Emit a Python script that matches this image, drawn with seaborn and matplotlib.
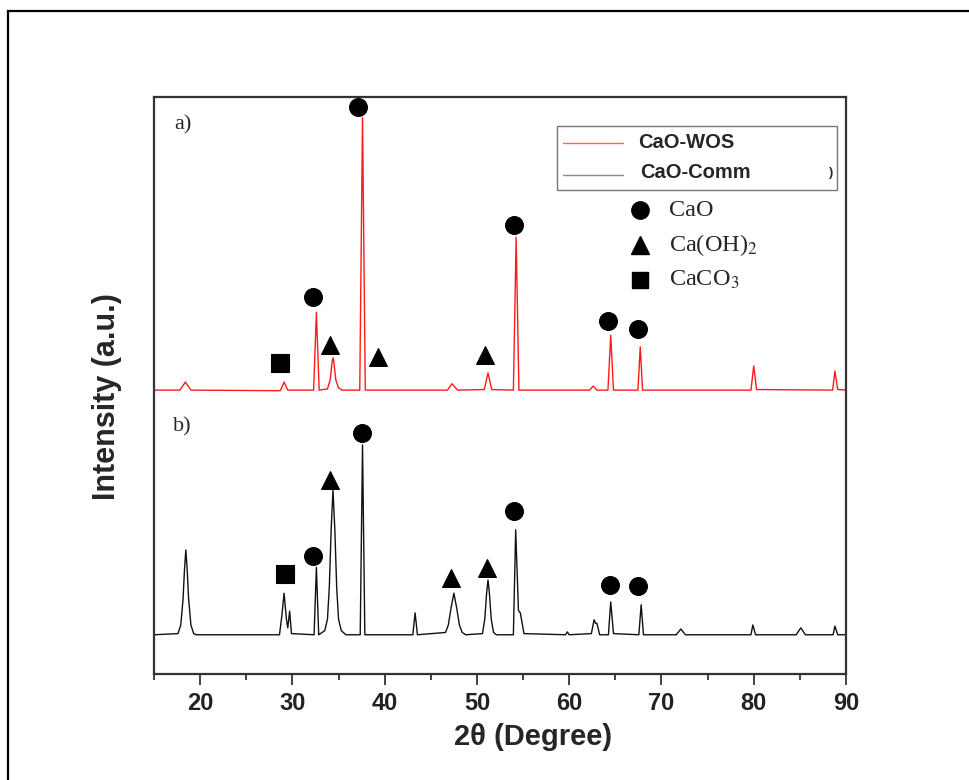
import numpy as np
import pandas as pd
import matplotlib
matplotlib.use("Agg")
import matplotlib.pyplot as plt
from matplotlib.patches import Rectangle
import seaborn as sns

# ---------------- data ----------------
# a) CaO-WOS trace (2theta, intensity a.u., already offset)
wos_x = [15.0, 17.8, 18.4, 19.0, 28.7, 29.1, 29.5, 32.3, 32.6, 32.9, 33.8, 34.1, 34.3, 34.4,
         34.5, 34.7, 35.0, 35.4, 37.3, 37.6, 37.9, 46.8, 47.3, 47.9, 50.8, 51.2, 51.6, 53.95,
         54.25, 54.55, 62.2, 62.6, 63.0, 64.2, 64.5, 64.8, 67.45, 67.7, 67.95, 79.7, 80.0,
         80.3, 88.55, 88.8, 89.1, 90.0]
wos_y = [492, 492, 506, 492, 491, 506, 492, 492, 627, 492, 494, 510, 540, 548,
         540, 510, 496, 492, 492, 964, 492, 492, 503, 492, 493, 522, 493, 492,
         757, 492, 492, 499, 492, 492, 587, 492, 492, 567, 492, 492, 534,
         493, 492, 525, 493, 492]

# b) CaO-Comm trace
comm_x = [15.0, 17.6, 17.9, 18.15, 18.3, 18.45, 18.6, 18.75, 19.0, 19.3, 19.6, 28.6, 28.85,
          29.1, 29.35, 29.5, 29.7, 29.9, 32.35, 32.6, 32.85, 33.5, 33.8, 34.0, 34.2, 34.4,
          34.6, 34.8, 35.0, 35.3, 35.8, 37.35, 37.6, 37.85, 43.05, 43.3, 43.55, 46.6, 46.9,
          47.2, 47.5, 47.8, 48.1, 48.4, 48.8, 50.6, 50.85, 51.05, 51.2, 51.35, 51.55, 51.8,
          52.1, 53.95, 54.2, 54.5, 54.7, 55.1, 59.6, 59.8, 60.0, 62.4, 62.7, 62.85, 63.0,
          63.3, 64.25, 64.5, 64.8, 67.55, 67.8, 68.05, 71.6, 72.1, 72.6, 79.7, 79.9, 80.2,
          84.6, 85.1, 85.6, 88.6, 88.8, 89.1, 90.0]
comm_y = [68, 70, 85, 130, 180, 215, 180, 130, 85, 70, 68, 68, 100,
          140, 95, 80, 109, 70, 68, 185, 68, 75, 95, 150, 250, 319,
          250, 150, 95, 75, 68, 68, 397, 68, 68, 106, 68, 72, 85,
          115, 140, 115, 85, 72, 68, 70, 95, 140, 163, 140, 95, 72,
          68, 68, 250, 110, 106, 70, 68, 73, 68, 70, 94, 88, 88,
          68, 68, 125, 70, 68, 120, 68, 68, 78, 68, 68, 85, 68,
          68, 80, 68, 68, 83, 68, 68]

# phase markers: (2theta, height, phase)
mark_x = [37.11, 32.23, 34.07, 28.66, 39.28, 50.87, 54.02, 64.2, 67.45,
          29.2, 32.23, 34.07, 37.54, 47.19, 51.09, 54.02, 64.42, 67.45]
mark_y = [983, 653, 570, 539, 549, 553, 778, 612, 598,
          173, 204, 336, 418, 166, 184, 282, 154, 153]
mark_phase = ["CaO", "CaO", "Ca(OH)2", "CaCO3", "Ca(OH)2", "Ca(OH)2", "CaO", "CaO", "CaO",
              "CaCO3", "CaO", "Ca(OH)2", "CaO", "Ca(OH)2", "Ca(OH)2", "CaO", "CaO", "CaO"]

phases = ["CaO", "Ca(OH)2", "CaCO3"]
phase_labels = ["CaO", "Ca(OH)$_2$", "CaCO$_3$"]
phase_markers = {"CaO": "o", "Ca(OH)2": "^", "CaCO3": "s"}
series_names = ["CaO-WOS", "CaO-Comm"]
xticks = [20, 30, 40, 50, 60, 70, 80, 90]

# ---------------- style ----------------
sns.set_style("white")
plt.rcParams["font.family"] = ["Liberation Sans", "DejaVu Sans"]
plt.rcParams["mathtext.fontset"] = "stix"
SERIF = ["Liberation Serif", "DejaVu Serif"]

fig = plt.figure(figsize=(9.69, 7.80), dpi=100)
ax = fig.add_axes([154 / 969, 1 - 674 / 780, 692 / 969, 577 / 780])

wos = pd.DataFrame({"x": wos_x, "y": wos_y})
comm = pd.DataFrame({"x": comm_x, "y": comm_y})
sns.lineplot(data=wos, x="x", y="y", color="#ff1a1a", lw=1.0, estimator=None, sort=False, ax=ax)
sns.lineplot(data=comm, x="x", y="y", color="#111111", lw=1.0, estimator=None, sort=False, ax=ax)

marks = pd.DataFrame({"x": mark_x, "y": mark_y, "phase": mark_phase})
for ph in phases:
    sub = marks[marks["phase"] == ph]
    sns.scatterplot(data=sub, x="x", y="y", marker=phase_markers[ph],
                    s=165 if ph != "CaCO3" else 150, color="black", edgecolor="black",
                    linewidth=0.8, legend=False, ax=ax, zorder=5)

ax.set_xlim(15, 90)
ax.set_ylim(0, 1000)
ax.set_xticks(xticks)
ax.set_xticks(np.arange(15, 91, 5), minor=True)
ax.set_yticks([])
ax.tick_params(axis="x", which="major", direction="out", length=8, width=1.2,
               colors="#222222", labelsize=17, pad=5, bottom=True, top=False)
ax.tick_params(axis="x", which="minor", direction="out", length=4, width=1.2,
               colors="#222222", bottom=True, top=False)
for lab in ax.get_xticklabels():
    lab.set_fontweight("bold")
for sp in ax.spines.values():
    sp.set_visible(True)
    sp.set_color("#333333")
    sp.set_linewidth(1.6)

ax.set_xlabel("2θ (Degree)", fontsize=21, fontweight="bold", va="center", ha="center")
ax.xaxis.set_label_coords(0.548, -0.109)
ax.set_ylabel("Intensity (a.u.)", fontsize=22, fontweight="bold", va="center", ha="center")
ax.yaxis.set_label_coords(-0.068, 0.48)

# panel labels
ax.text(0.029, 0.951, "a)", transform=ax.transAxes, family=SERIF, fontsize=16,
        ha="left", va="center")
ax.text(0.028, 0.428, "b)", transform=ax.transAxes, family=SERIF, fontsize=16,
        ha="left", va="center")

# legend box for the two series
def fx(px):
    return (px - 154) / 692
def fy(py):
    return (674 - py) / 577

ax.add_patch(Rectangle((fx(557), fy(190)), fx(837) - fx(557), fy(126) - fy(190),
                       transform=ax.transAxes, fill=False, edgecolor="#777777", lw=1.0))
ax.plot([fx(563), fx(623)], [fy(143), fy(143)], transform=ax.transAxes,
        color="#ff6060", lw=1.0)
ax.plot([fx(563), fx(623)], [fy(175), fy(175)], transform=ax.transAxes,
        color="#888888", lw=1.0)
ax.text(fx(638), fy(142), series_names[0], transform=ax.transAxes, fontsize=14.5,
        fontweight="bold", ha="left", va="center")
ax.text(fx(640), fy(172), series_names[1], transform=ax.transAxes, fontsize=14.5,
        fontweight="bold", ha="left", va="center")
ax.text(fx(829), fy(173), ")", transform=ax.transAxes, fontsize=9,
        fontweight="bold", ha="left", va="center")

# phase key
for ph, lab, py in zip(phases, phase_labels, [210, 245, 280]):
    ax.plot([fx(640)], [fy(py)], transform=ax.transAxes, marker=phase_markers[ph],
            ms=12.5 if ph != "CaCO3" else 12, color="black", ls="none")
    ax.text(fx(669), fy(py), lab, transform=ax.transAxes, family=SERIF, fontsize=17.5,
            ha="left", va="center")

# outer frame (left and top edges visible, cut at right/bottom)
fig.add_artist(Rectangle((8 / 969, -0.1), 1.2, (1 - 11 / 780) + 0.1,
                         transform=fig.transFigure, fill=False, edgecolor="black",
                         lw=1.6, clip_on=False))

fig.savefig("out.png", dpi=100)
